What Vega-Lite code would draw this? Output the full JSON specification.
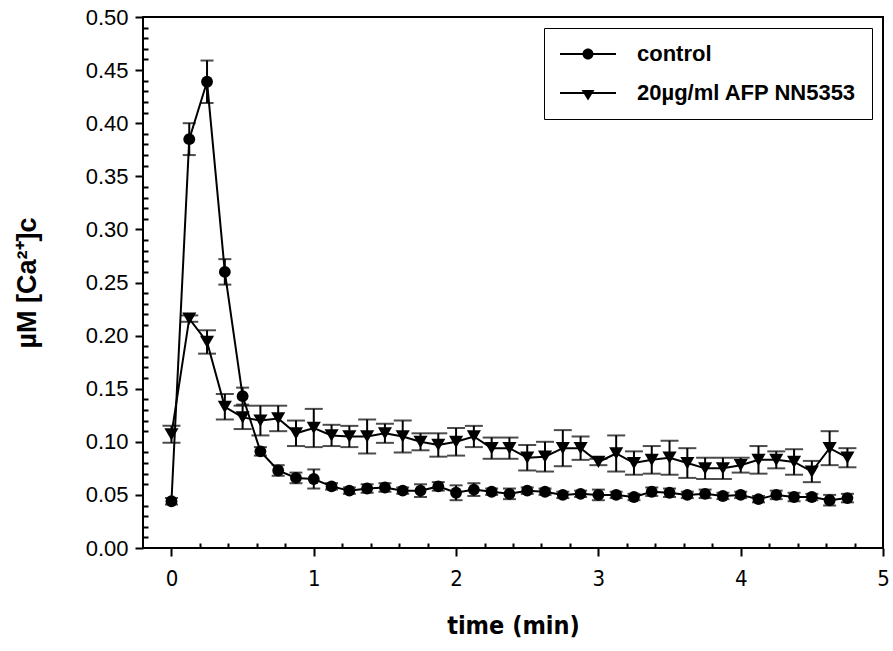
{
  "$schema": "https://vega.github.io/schema/vega-lite/v6.json",
  "width": 740,
  "height": 531,
  "autosize": "none",
  "padding": {"left": 143, "top": 17, "right": 10, "bottom": 103},
  "background": "white",
  "datasets": {
    "d": [
      {"t": 0, "s": "control", "m": 0.044, "lo": 0.041, "hi": 0.047},
      {"t": 0.125, "s": "control", "m": 0.385, "lo": 0.370, "hi": 0.400},
      {"t": 0.25, "s": "control", "m": 0.439, "lo": 0.419, "hi": 0.459},
      {"t": 0.375, "s": "control", "m": 0.260, "lo": 0.248, "hi": 0.272},
      {"t": 0.5, "s": "control", "m": 0.143, "lo": 0.135, "hi": 0.151},
      {"t": 0.625, "s": "control", "m": 0.091, "lo": 0.087, "hi": 0.095},
      {"t": 0.75, "s": "control", "m": 0.073, "lo": 0.068, "hi": 0.078},
      {"t": 0.875, "s": "control", "m": 0.066, "lo": 0.061, "hi": 0.071},
      {"t": 1.0, "s": "control", "m": 0.065, "lo": 0.056, "hi": 0.074},
      {"t": 1.125, "s": "control", "m": 0.058, "lo": 0.055, "hi": 0.061},
      {"t": 1.25, "s": "control", "m": 0.054, "lo": 0.051, "hi": 0.057},
      {"t": 1.375, "s": "control", "m": 0.056, "lo": 0.052, "hi": 0.060},
      {"t": 1.5, "s": "control", "m": 0.057, "lo": 0.053, "hi": 0.061},
      {"t": 1.625, "s": "control", "m": 0.054, "lo": 0.051, "hi": 0.057},
      {"t": 1.75, "s": "control", "m": 0.054, "lo": 0.048, "hi": 0.060},
      {"t": 1.875, "s": "control", "m": 0.058, "lo": 0.054, "hi": 0.062},
      {"t": 2.0, "s": "control", "m": 0.052, "lo": 0.045, "hi": 0.059},
      {"t": 2.125, "s": "control", "m": 0.055, "lo": 0.049, "hi": 0.061},
      {"t": 2.25, "s": "control", "m": 0.053, "lo": 0.050, "hi": 0.056},
      {"t": 2.375, "s": "control", "m": 0.051, "lo": 0.046, "hi": 0.056},
      {"t": 2.5, "s": "control", "m": 0.054, "lo": 0.051, "hi": 0.057},
      {"t": 2.625, "s": "control", "m": 0.053, "lo": 0.050, "hi": 0.056},
      {"t": 2.75, "s": "control", "m": 0.050, "lo": 0.047, "hi": 0.053},
      {"t": 2.875, "s": "control", "m": 0.051, "lo": 0.048, "hi": 0.054},
      {"t": 3.0, "s": "control", "m": 0.050, "lo": 0.045, "hi": 0.055},
      {"t": 3.125, "s": "control", "m": 0.050, "lo": 0.047, "hi": 0.053},
      {"t": 3.25, "s": "control", "m": 0.048, "lo": 0.045, "hi": 0.051},
      {"t": 3.375, "s": "control", "m": 0.053, "lo": 0.049, "hi": 0.057},
      {"t": 3.5, "s": "control", "m": 0.052, "lo": 0.048, "hi": 0.056},
      {"t": 3.625, "s": "control", "m": 0.050, "lo": 0.047, "hi": 0.053},
      {"t": 3.75, "s": "control", "m": 0.051, "lo": 0.047, "hi": 0.055},
      {"t": 3.875, "s": "control", "m": 0.049, "lo": 0.046, "hi": 0.052},
      {"t": 4.0, "s": "control", "m": 0.050, "lo": 0.047, "hi": 0.053},
      {"t": 4.125, "s": "control", "m": 0.046, "lo": 0.043, "hi": 0.049},
      {"t": 4.25, "s": "control", "m": 0.050, "lo": 0.046, "hi": 0.054},
      {"t": 4.375, "s": "control", "m": 0.048, "lo": 0.044, "hi": 0.052},
      {"t": 4.5, "s": "control", "m": 0.048, "lo": 0.045, "hi": 0.051},
      {"t": 4.625, "s": "control", "m": 0.045, "lo": 0.040, "hi": 0.050},
      {"t": 4.75, "s": "control", "m": 0.047, "lo": 0.043, "hi": 0.051},
      {"t": 0, "s": "20µg/ml AFP NN5353", "m": 0.107, "lo": 0.099, "hi": 0.115},
      {"t": 0.125, "s": "20µg/ml AFP NN5353", "m": 0.216, "lo": 0.213, "hi": 0.219},
      {"t": 0.25, "s": "20µg/ml AFP NN5353", "m": 0.194, "lo": 0.183, "hi": 0.205},
      {"t": 0.375, "s": "20µg/ml AFP NN5353", "m": 0.133, "lo": 0.121, "hi": 0.145},
      {"t": 0.5, "s": "20µg/ml AFP NN5353", "m": 0.123, "lo": 0.112, "hi": 0.134},
      {"t": 0.625, "s": "20µg/ml AFP NN5353", "m": 0.120, "lo": 0.106, "hi": 0.134},
      {"t": 0.75, "s": "20µg/ml AFP NN5353", "m": 0.122, "lo": 0.110, "hi": 0.134},
      {"t": 0.875, "s": "20µg/ml AFP NN5353", "m": 0.108, "lo": 0.096, "hi": 0.120},
      {"t": 1.0, "s": "20µg/ml AFP NN5353", "m": 0.113, "lo": 0.095, "hi": 0.131},
      {"t": 1.125, "s": "20µg/ml AFP NN5353", "m": 0.106, "lo": 0.096, "hi": 0.116},
      {"t": 1.25, "s": "20µg/ml AFP NN5353", "m": 0.105, "lo": 0.095, "hi": 0.115},
      {"t": 1.375, "s": "20µg/ml AFP NN5353", "m": 0.105, "lo": 0.089, "hi": 0.121},
      {"t": 1.5, "s": "20µg/ml AFP NN5353", "m": 0.108, "lo": 0.099, "hi": 0.117},
      {"t": 1.625, "s": "20µg/ml AFP NN5353", "m": 0.105, "lo": 0.090, "hi": 0.120},
      {"t": 1.75, "s": "20µg/ml AFP NN5353", "m": 0.100, "lo": 0.092, "hi": 0.108},
      {"t": 1.875, "s": "20µg/ml AFP NN5353", "m": 0.097, "lo": 0.086, "hi": 0.108},
      {"t": 2.0, "s": "20µg/ml AFP NN5353", "m": 0.100, "lo": 0.087, "hi": 0.113},
      {"t": 2.125, "s": "20µg/ml AFP NN5353", "m": 0.105, "lo": 0.095, "hi": 0.115},
      {"t": 2.25, "s": "20µg/ml AFP NN5353", "m": 0.094, "lo": 0.084, "hi": 0.104},
      {"t": 2.375, "s": "20µg/ml AFP NN5353", "m": 0.094, "lo": 0.084, "hi": 0.104},
      {"t": 2.5, "s": "20µg/ml AFP NN5353", "m": 0.085, "lo": 0.073, "hi": 0.097},
      {"t": 2.625, "s": "20µg/ml AFP NN5353", "m": 0.086, "lo": 0.072, "hi": 0.100},
      {"t": 2.75, "s": "20µg/ml AFP NN5353", "m": 0.094, "lo": 0.077, "hi": 0.111},
      {"t": 2.875, "s": "20µg/ml AFP NN5353", "m": 0.094, "lo": 0.083, "hi": 0.105},
      {"t": 3.0, "s": "20µg/ml AFP NN5353", "m": 0.081, "lo": 0.078, "hi": 0.084},
      {"t": 3.125, "s": "20µg/ml AFP NN5353", "m": 0.089, "lo": 0.072, "hi": 0.106},
      {"t": 3.25, "s": "20µg/ml AFP NN5353", "m": 0.080, "lo": 0.069, "hi": 0.091},
      {"t": 3.375, "s": "20µg/ml AFP NN5353", "m": 0.083, "lo": 0.070, "hi": 0.096},
      {"t": 3.5, "s": "20µg/ml AFP NN5353", "m": 0.085, "lo": 0.069, "hi": 0.101},
      {"t": 3.625, "s": "20µg/ml AFP NN5353", "m": 0.080, "lo": 0.066, "hi": 0.094},
      {"t": 3.75, "s": "20µg/ml AFP NN5353", "m": 0.075, "lo": 0.065, "hi": 0.085},
      {"t": 3.875, "s": "20µg/ml AFP NN5353", "m": 0.075, "lo": 0.065, "hi": 0.085},
      {"t": 4.0, "s": "20µg/ml AFP NN5353", "m": 0.078, "lo": 0.071, "hi": 0.085},
      {"t": 4.125, "s": "20µg/ml AFP NN5353", "m": 0.083, "lo": 0.070, "hi": 0.096},
      {"t": 4.25, "s": "20µg/ml AFP NN5353", "m": 0.083, "lo": 0.075, "hi": 0.091},
      {"t": 4.375, "s": "20µg/ml AFP NN5353", "m": 0.081, "lo": 0.069, "hi": 0.093},
      {"t": 4.5, "s": "20µg/ml AFP NN5353", "m": 0.072, "lo": 0.062, "hi": 0.082},
      {"t": 4.625, "s": "20µg/ml AFP NN5353", "m": 0.094, "lo": 0.078, "hi": 0.110},
      {"t": 4.75, "s": "20µg/ml AFP NN5353", "m": 0.085, "lo": 0.076, "hi": 0.094}
    ]
  },
  "data": {"name": "d"},
  "resolve": {
    "scale": {"shape": "independent", "size": "independent"}
  },
  "layer": [
    {
      "mark": {"type": "line", "color": "black", "strokeWidth": 2},
      "encoding": {
        "x": {
          "field": "t", "type": "quantitative",
          "scale": {"domain": [-0.2, 5], "nice": false, "zero": false},
          "axis": {
            "orient": "bottom", "offset": -5, "tickCount": 200,
            "values": [0, 0.2, 0.4, 0.6, 0.8, 1, 1.2, 1.4, 1.6, 1.8, 2, 2.2, 2.4, 2.6, 2.8, 3, 3.2, 3.4, 3.6, 3.8, 4, 4.2, 4.4, 4.6, 4.8, 5],
            "format": "~g",
            "labelExpr": "abs(datum.value - round(datum.value)) < 0.001 ? datum.label : ''",
            "labelOverlap": false, "labelBound": false, "labelFlush": false,
            "title": "time (min)",
            "tickSize": 13,
            "tickDash": {"condition": {"test": "abs(datum.value - round(datum.value)) < 0.001", "value": [0, 5, 8, 40]}, "value": [5, 40]},
            "tickWidth": 2, "tickColor": "black", "domain": false, "grid": false,
            "labelFont": "DejaVu Sans Condensed, Liberation Sans", "labelFontSize": 22, "labelColor": "black", "labelPadding": 12,
            "titleFont": "DejaVu Sans Condensed, Liberation Sans", "titleFontSize": 25, "titleFontWeight": "bold", "titleColor": "black", "titlePadding": 24
          }
        },
        "y": {
          "field": "m", "type": "quantitative",
          "scale": {"domain": [0, 0.5], "nice": false},
          "axis": {
            "orient": "left", "offset": -5, "tickCount": 200,
            "values": [0, 0.01, 0.02, 0.03, 0.04, 0.05, 0.06, 0.07, 0.08, 0.09, 0.1, 0.11, 0.12, 0.13, 0.14, 0.15, 0.16, 0.17, 0.18, 0.19, 0.2, 0.21, 0.22, 0.23, 0.24, 0.25, 0.26, 0.27, 0.28, 0.29, 0.3, 0.31, 0.32, 0.33, 0.34, 0.35, 0.36, 0.37, 0.38, 0.39, 0.4, 0.41, 0.42, 0.43, 0.44, 0.45, 0.46, 0.47, 0.48, 0.49, 0.5],
            "format": ".2f",
            "labelExpr": "abs(datum.value * 20 - round(datum.value * 20)) < 0.001 ? datum.label : ''",
            "labelOverlap": false, "labelBound": false, "labelFlush": false,
            "title": "µM [Ca²⁺]c",
            "tickSize": 13,
            "tickDash": {"condition": {"test": "abs(datum.value * 20 - round(datum.value * 20)) < 0.001", "value": [0, 5, 8, 40]}, "value": [5, 40]},
            "tickWidth": 2, "tickColor": "black", "domain": false, "grid": false,
            "labelFont": "Liberation Sans", "labelFontSize": 22, "labelColor": "black", "labelPadding": 7,
            "titleFont": "Liberation Sans", "titleFontSize": 27, "titleFontWeight": "bold", "titleColor": "black", "titlePadding": 44
          }
        },
        "detail": {"field": "s", "type": "nominal"}
      }
    },
    {
      "mark": {"type": "rule", "color": "black", "strokeWidth": 2},
      "encoding": {
        "x": {"field": "t", "type": "quantitative"},
        "y": {"field": "lo", "type": "quantitative"},
        "y2": {"field": "hi"}
      }
    },
    {
      "mark": {"type": "tick", "orient": "horizontal", "color": "black", "thickness": 2},
      "encoding": {
        "x": {"field": "t", "type": "quantitative"},
        "y": {"field": "hi", "type": "quantitative"},
        "size": {"field": "s", "type": "nominal", "scale": {"domain": ["control", "20µg/ml AFP NN5353"], "range": [13, 18]}, "legend": null}
      }
    },
    {
      "mark": {"type": "tick", "orient": "horizontal", "color": "black", "thickness": 2},
      "encoding": {
        "x": {"field": "t", "type": "quantitative"},
        "y": {"field": "lo", "type": "quantitative"},
        "size": {"field": "s", "type": "nominal", "scale": {"domain": ["control", "20µg/ml AFP NN5353"], "range": [13, 18]}, "legend": null}
      }
    },
    {
      "mark": {"type": "point", "filled": true, "color": "black", "opacity": 1},
      "encoding": {
        "x": {"field": "t", "type": "quantitative"},
        "y": {"field": "m", "type": "quantitative"},
        "shape": {"field": "s", "type": "nominal", "scale": {"domain": ["control", "20µg/ml AFP NN5353"], "range": ["circle", "triangle-down"]}, "legend": null},
        "size": {"field": "s", "type": "nominal", "scale": {"domain": ["control", "20µg/ml AFP NN5353"], "range": [140, 200]}, "legend": null}
      }
    },
    {
      "mark": {"type": "point", "filled": true, "color": "black", "opacity": 0, "size": 400},
      "encoding": {
        "x": {"field": "t", "type": "quantitative"},
        "y": {"field": "m", "type": "quantitative"},
        "shape": {
          "field": "s", "type": "nominal",
          "scale": {
            "domain": ["control", "20µg/ml AFP NN5353"],
            "range": [
              "M-1,-0.1H1.3V0.1H-1ZM2.3,-0.1H4.6V0.1H2.3ZM1.25,0A0.55,0.55,0,1,1,2.35,0A0.55,0.55,0,1,1,1.25,0Z",
              "M-1,-0.1H1.4V0.1H-1ZM2.2,-0.1H4.6V0.1H2.2ZM1.15,-0.3H2.45L1.8,0.75Z"
            ]
          },
          "legend": {
            "title": null, "orient": "top-right", "offset": 11,
            "symbolSize": 400, "symbolOpacity": 1, "symbolFillColor": "black",
            "labelFont": "Liberation Sans", "labelFontSize": 22, "labelFontWeight": "bold", "labelColor": "black",
            "labelOffset": 56, "labelLimit": 400, "rowPadding": 17,
            "padding": 15, "strokeColor": "black", "fillColor": "white"
          }
        }
      }
    }
  ],
  "config": {
    "view": {"stroke": "black", "strokeWidth": 2},
    "font": "Liberation Sans"
  }
}
